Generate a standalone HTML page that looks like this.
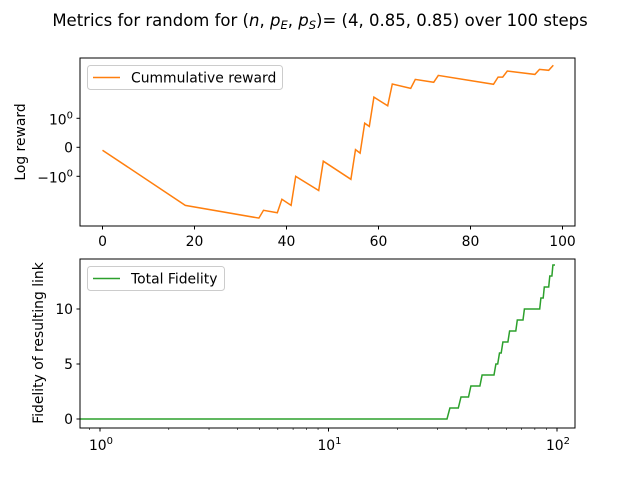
<!DOCTYPE html>
<html><head><meta charset="utf-8"><style>
body{margin:0;background:#fff;}
svg text{font-family:"DejaVu Sans","Liberation Sans",sans-serif;fill:#000;}
</style></head><body>
<svg id="chart" width="640" height="480" xmlns="http://www.w3.org/2000/svg">
<text x="320" y="26" text-anchor="middle" font-size="16.5">Metrics for random for (<tspan font-style="italic">n</tspan>, <tspan font-style="italic">p</tspan><tspan font-size="11.5" dy="3" font-style="italic">E</tspan><tspan dy="-3">, </tspan><tspan font-style="italic">p</tspan><tspan font-size="11.5" dy="3" font-style="italic">S</tspan><tspan dy="-3">)= (4, 0.85, 0.85) over 100 steps</tspan></text>
<g id="topPanel"></g>
<g id="botPanel"></g>
</svg>
<script>
// Top panel data: cumulative reward (symlog y)
const rewardSteps = [0,18,34,35,38,39,41,42,47,48,54,55,56,57,58,59,62,63,67,68,72,73,85,86,87,88,94,95,97,98];
const rewardValues = [-0.1,-13,-40,-20,-25,-7.6,-13,-1.0,-3.5,-0.48,-1.3,-0.08,-0.2,0.83,0.72,6.5,3.0,20.6,14,31,24,44,20,38,38,65,48,75,69,107];
const topXTicks = [0,20,40,60,80,100];
// Bottom panel data: total fidelity (log x)
const fidSteps = [0,33,34,37,38,41,42,46,47,53,54,55,56,57,58,61,62,66,67,71,72,84,85,87,88,92,93,95,96,98];
const fidValues = [0,0,1,1,2,2,3,3,4,4,5,5,6,6,7,7,8,8,9,9,10,10,11,11,12,12,13,13,14,14];
const botYTicks = [0,5,10];
const botXTicks = [1,10,100];

const NS="http://www.w3.org/2000/svg";
const FS=13.9;
function mk(parent,tag,attrs){const e=document.createElementNS(NS,tag);for(const k in attrs)e.setAttribute(k,attrs[k]);parent.appendChild(e);return e;}

// ---------- top ----------
const topG=document.getElementById('topPanel');
const TL=80,TR=575,TT=58,TB=226;
const xTop=v=>102.5+v*4.6;
function symlog(v){const a=Math.abs(v);const t=a<=1?a*29:29+Math.log10(a)*26.1;return v<0?-t:t;}
const yTop=v=>147.3-symlog(v);
let d=rewardSteps.map((s,i)=>(i?'L':'M')+xTop(s).toFixed(1)+','+yTop(rewardValues[i]).toFixed(1)).join('');
let p=mk(topG,'path',{d:d,fill:'none',stroke:'#ff7f0e','stroke-width':1.5});


let r=mk(topG,'rect',{x:TL,y:TT,width:TR-TL,height:TB-TT,fill:'none',stroke:'#000','stroke-width':1});


topXTicks.forEach(t=>{const x=xTop(t);mk(topG,'line',{x1:x,x2:x,y1:TB,y2:TB+3.5,stroke:'#000'});
 const tx=mk(topG,'text',{x:x,y:TB+20,'text-anchor':'middle','font-size':FS});tx.textContent=t;
 
 });
[[1,'10','0'],[0,'0',''],[-1,'−10','0']].forEach(([v,b,e])=>{const y=yTop(v);mk(topG,'line',{x1:TL-3.5,x2:TL,y1:y,y2:y,stroke:'#000'});
 const tx=mk(topG,'text',{x:TL-7,y:y+5,'text-anchor':'end','font-size':FS});
 
 
 if(e){tx.appendChild(document.createTextNode(b));const s=mk(tx,'tspan',{'font-size':10,dy:-6});s.textContent=e;tx.setAttribute('y',y+6);}else tx.textContent=b;});
let yl=mk(topG,'text',{x:0,y:0,transform:'translate(25,142) rotate(-90)','text-anchor':'middle','font-size':FS});yl.textContent='Log reward';


let lg=mk(topG,'g',{});


mk(lg,'rect',{x:87.5,y:65.5,width:195,height:24,rx:3,fill:'#fff',stroke:'#ccc'});
mk(lg,'line',{x1:93,x2:120,y1:77.5,y2:77.5,stroke:'#ff7f0e','stroke-width':1.5});
let lt=mk(lg,'text',{x:131,y:82.5,'font-size':FS});lt.textContent='Cummulative reward';

// ---------- bottom ----------
const botG=document.getElementById('botPanel');
const BL=80,BR=575,BT=259,BB=428;
const xBot=v=>v<=0?BL:100+Math.log10(v)*228.5;
const yBot=v=>419-v*11;
d=fidSteps.map((s,i)=>(i?'L':'M')+xBot(s).toFixed(1)+','+yBot(fidValues[i]).toFixed(1)).join('');
p=mk(botG,'path',{d:d,fill:'none',stroke:'#2ca02c','stroke-width':1.5});


r=mk(botG,'rect',{x:BL,y:BT,width:BR-BL,height:BB-BT,fill:'none',stroke:'#000','stroke-width':1});


[0.1,1,10,100].forEach(dec=>{for(let m=2;m<10;m++){const x=xBot(dec*m);if(x<BL||x>BR)continue;mk(botG,'line',{x1:x,x2:x,y1:BB,y2:BB+2,stroke:'#000','stroke-width':0.6});}});
botXTicks.forEach((t,i)=>{const x=xBot(t);mk(botG,'line',{x1:x,x2:x,y1:BB,y2:BB+3.5,stroke:'#000'});
 const tx=mk(botG,'text',{x:x+1,y:BB+22,'text-anchor':'middle','font-size':FS});
 tx.appendChild(document.createTextNode('10'));
 const s=mk(tx,'tspan',{'font-size':10,dy:-6});s.textContent=String(i);
 
 });
botYTicks.forEach(t=>{const y=yBot(t);mk(botG,'line',{x1:BL-3.5,x2:BL,y1:y,y2:y,stroke:'#000'});
 const tx=mk(botG,'text',{x:BL-7,y:y+5,'text-anchor':'end','font-size':FS});tx.textContent=t;
 
 });
yl=mk(botG,'text',{x:0,y:0,transform:'translate(43,343) rotate(-90)','text-anchor':'middle','font-size':FS});yl.textContent='Fidelity of resulting link';


lg=mk(botG,'g',{});


mk(lg,'rect',{x:87.5,y:266.5,width:137,height:24,rx:3,fill:'#fff',stroke:'#ccc'});
mk(lg,'line',{x1:93,x2:120,y1:278.5,y2:278.5,stroke:'#2ca02c','stroke-width':1.5});
lt=mk(lg,'text',{x:131,y:283.5,'font-size':FS});lt.textContent='Total Fidelity';
</script>
</body></html>
